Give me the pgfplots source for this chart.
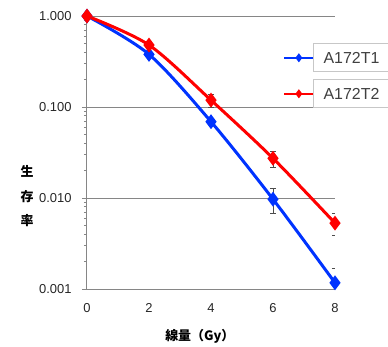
\documentclass[border=0pt]{standalone}
\usepackage{pgfplots}
\pgfplotsset{compat=1.18}
\usepackage{fontspec}
\setmainfont{Liberation Sans}
\newfontfamily\cjk{Noto Sans CJK JP}
\definecolor{sblue}{RGB}{0,51,255}
\definecolor{sred}{RGB}{255,0,0}
\definecolor{axgray}{RGB}{134,134,134}
\begin{document}
\begin{tikzpicture}
\path (-87bp,-51bp) rectangle (301bp,289bp);
\begin{axis}[
  at={(0,0)}, anchor=south west,
  scale only axis, width=248bp, height=273bp,
  ymode=log, xmin=0, xmax=8, ymin=0.001, ymax=1,
  axis x line*=bottom, axis y line*=left,
  axis line style={axgray, line width=1bp},
  xtick={0,2,4,6,8}, xticklabels={0,2,4,6,8},
  ytick={0.001,0.01,0.1,1}, yticklabels={0.001,0.010,0.100,1.000},
  minor ytick={0.002,0.003,0.004,0.005,0.006,0.007,0.008,0.009,0.02,0.03,0.04,0.05,0.06,0.07,0.08,0.09,0.2,0.3,0.4,0.5,0.6,0.7,0.8,0.9},
  xtick style={draw=none},
  ytick style={axgray, line width=1bp},
  tick align=outside, major tick length=5bp, minor tick length=3bp,
  ymajorgrids, major grid style={axgray, line width=1bp},
  tick label style={font=\fontsize{13}{15}\selectfont, text=black!85},
  xticklabel style={yshift=-6bp},
  yticklabel style={xshift=-7bp},
  ylabel={生\\存\\率},
  ylabel style={at={(axis description cs:-0.242,0.34)}, rotate=-90, anchor=center, align=center, font=\cjk\bfseries\fontsize{13}{24.5}\selectfont},
  xlabel={線量（Gy）},
  xlabel style={at={(axis description cs:0.455,-0.172)}, anchor=center, font=\cjk\bfseries\fontsize{13}{15}\selectfont},
  legend style={at={(0.79,0.781)}, anchor=west, draw=none, fill=none, inner sep=0pt, column sep=9bp, row sep=24bp, nodes={inner sep=0pt, text height=12bp, text depth=0bp, font=\fontsize{16}{18}\selectfont, text=black!75}},
  legend cell align=left,
  legend image code/.code={
    \draw[overlay, black!22, fill=white, line width=0.8bp] (29bp,-14bp) rectangle (105bp,14bp);
    \draw[mark repeat=2,mark phase=2,#1, line width=2.5bp, mark size=2.5bp] plot coordinates {(0bp,0bp) (14.5bp,0bp) (29bp,0bp)};},
]
\addplot[sblue, line width=3bp, smooth, mark=diamond*, mark size=5bp, mark options={solid},
  error bars/.cd, y dir=both, y explicit,
  error bar style={black!70, line width=0.7bp},
  error mark options={rotate=90, mark size=3bp, black!70, line width=0.7bp}]
  table[x=x, y=y, y error=e] {
x y e
0 1 0
2 0.379 0.02
4 0.069 0.005
6 0.0097 0.003
8 0.00117 0.0005
};
\addlegendentry{A172T1}
\addplot[sred, line width=3bp, smooth, mark=diamond*, mark size=5bp, mark options={solid},
  error bars/.cd, y dir=both, y explicit,
  error bar style={black!70, line width=0.7bp},
  error mark options={rotate=90, mark size=3bp, black!70, line width=0.7bp}]
  table[x=x, y=y, y error=e] {
x y e
0 1 0
2 0.48 0.03
4 0.119 0.02
6 0.0273 0.0055
8 0.0053 0.0014
};
\addlegendentry{A172T2}
\end{axis}
\end{tikzpicture}
\end{document}
